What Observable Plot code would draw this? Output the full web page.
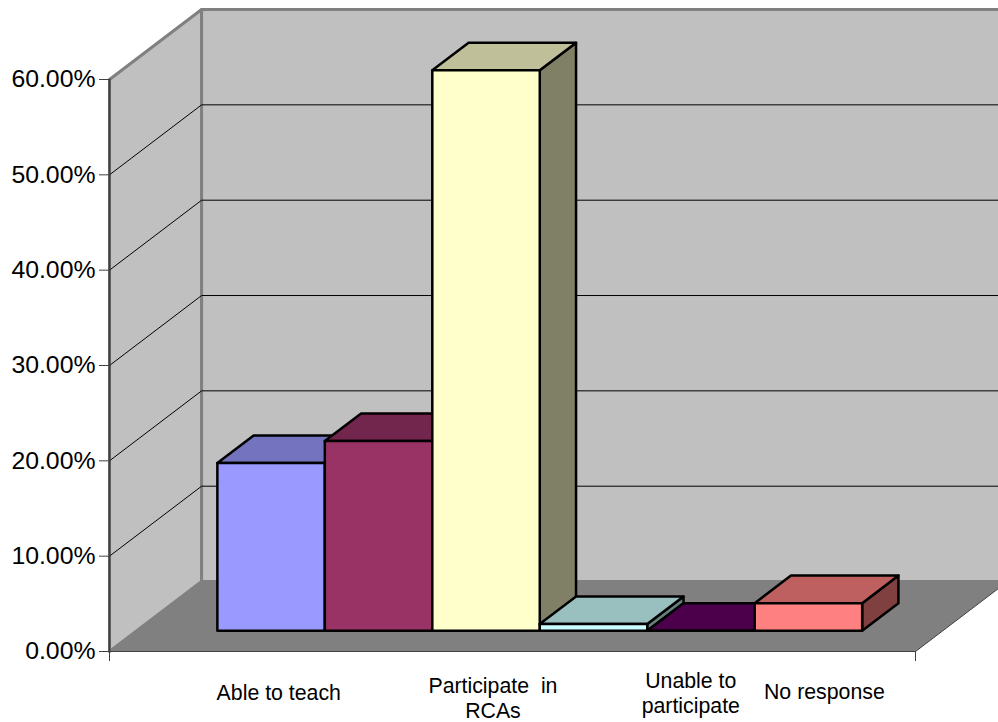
<!DOCTYPE html>
<html>
<head>
<meta charset="utf-8">
<style>
  html, body { margin: 0; padding: 0; background: #fff; overflow: hidden; }
  svg { display: block; }
</style>
<script src="https://cdn.jsdelivr.net/npm/d3@7"></script>
<script src="https://cdn.jsdelivr.net/npm/@observablehq/plot@0.6"></script>
</head>
<body>
<div id="chart"></div>
<script>
// Survey responses, percent of respondents
const categories = ["Able to teach", "", "Participate  in\nRCAs", "", "Unable to\nparticipate", "No response"];
const shares = [17.6, 19.9, 58.8, 0.7, 0, 2.9];
const frontColors = ["#9999FF", "#993366", "#FFFFCC", "#CCFFFF", "#660066", "#FF8080"];
const topColors = ["#7373BF", "#73264D", "#BFBF99", "#99BFBF", "#4C004C", "#BF6060"];
const sideColors = ["#4C4C80", "#4C1933", "#808066", "#668080", "#330033", "#804040"];
const yTicks = [0, 10, 20, 30, 40, 50, 60];

// Oblique projection: depth 0 is the front plane, depth 1 the back wall
const slotCount = 7.5;
const firstBar = 0.75;
const depthX = 0.857;  // category units per full depth
const depthY = 7.34;   // percentage points per full depth
const barNear = 0.296;
const barFar = 0.69;
const project = (pos, value, depth) => ({x: pos + depth * depthX, y: value + depth * depthY});

// Closes a list of [pos, value, depth] corners into one polygon
const polygon = (face, fill, corners) =>
  [...corners, corners[0]].map(([p, v, d]) => ({face, fill, ...project(p, v, d)}));

const walls = [
  ...polygon("left", "#C0C0C0", [[0, 0, 0], [0, 0, 1], [0, 60, 1], [0, 60, 0]]),
  ...polygon("back", "#C0C0C0", [[0, 0, 1], [slotCount, 0, 1], [slotCount, 60, 1], [0, 60, 1]])
];
const floor = polygon("floor", "#808080", [[0, 0, 0], [slotCount, 0, 0], [slotCount, 0, 1], [0, 0, 1]]);

const gridLines = yTicks.slice(1, -1).flatMap((v) => [
  {key: v, ...project(0, v, 0)},
  {key: v, ...project(0, v, 1)},
  {key: v, ...project(slotCount, v, 1)}
]);

const floorEdge = [project(0, 0, 0), project(slotCount, 0, 0), project(slotCount, 0, 1)];
const leftEdge = [project(0, 0, 0), project(0, 60, 0)];

const barFaces = shares.flatMap((v, i) => {
  const a = firstBar + i, b = a + 1;
  return [
    ...polygon(`side${i}`, sideColors[i], [[b, 0, barNear], [b, 0, barFar], [b, v, barFar], [b, v, barNear]]),
    ...polygon(`top${i}`, topColors[i], [[a, v, barNear], [b, v, barNear], [b, v, barFar], [a, v, barFar]]),
    ...polygon(`front${i}`, frontColors[i], [[a, 0, barNear], [b, 0, barNear], [b, v, barNear], [a, v, barNear]])
  ];
});

// Category captions sit below the floor, each nudged to clear its neighbours
const captionShift = [0.325, 0, 0.318, 0, 0.159, 0.402];
const captionDrop = [-4.2, 0, -4.85, 0, -4.3, -4.1];
const captions = categories
  .map((label, i) => ({label, x: firstBar + i + 0.5 + captionShift[i], y: captionDrop[i]}))
  .filter((d) => d.label);

const chart = Plot.plot({
  width: 998,
  height: 722,
  marginLeft: 109,
  marginRight: 83,
  marginTop: 79,
  marginBottom: 71,
  style: {fontFamily: "'Liberation Sans', Arial, sans-serif", background: "#fff", color: "#000"},
  x: {domain: [0, slotCount], axis: null},
  y: {domain: [0, 60], axis: null},
  color: {type: "identity"},
  marks: [
    Plot.line(walls, {x: "x", y: "y", z: "face", fill: "fill", stroke: "#808080", strokeWidth: 3, curve: "linear"}),
    Plot.line(floor, {x: "x", y: "y", z: "face", fill: "fill", stroke: "none", curve: "linear"}),
    Plot.line(gridLines, {x: "x", y: "y", z: "key", stroke: "#000", strokeWidth: 1, curve: "linear"}),
    Plot.line(floorEdge, {x: "x", y: "y", stroke: "#404040", strokeWidth: 1, curve: "linear"}),
    Plot.line(leftEdge, {x: "x", y: "y", stroke: "#404040", strokeWidth: 2, curve: "linear"}),
    Plot.line(barFaces, {x: "x", y: "y", z: "face", fill: "fill", stroke: "#000", strokeWidth: 2.5, curve: "linear"}),
    Plot.axisY({ticks: yTicks, tickSize: 10, tickPadding: 4, fontSize: 24.8, tickFormat: (d) => d.toFixed(2) + "%", stroke: "#404040", label: null}),
    Plot.axisX({ticks: [0, slotCount], tickSize: 10, tickFormat: () => "", stroke: "#404040", label: null}),
    Plot.text(captions, {x: "x", y: "y", text: "label", fontSize: 21.3, lineHeight: 1.18, lineAnchor: "middle", fill: "#000"})
  ]
});
document.getElementById("chart").appendChild(chart);
</script>
</body>
</html>
